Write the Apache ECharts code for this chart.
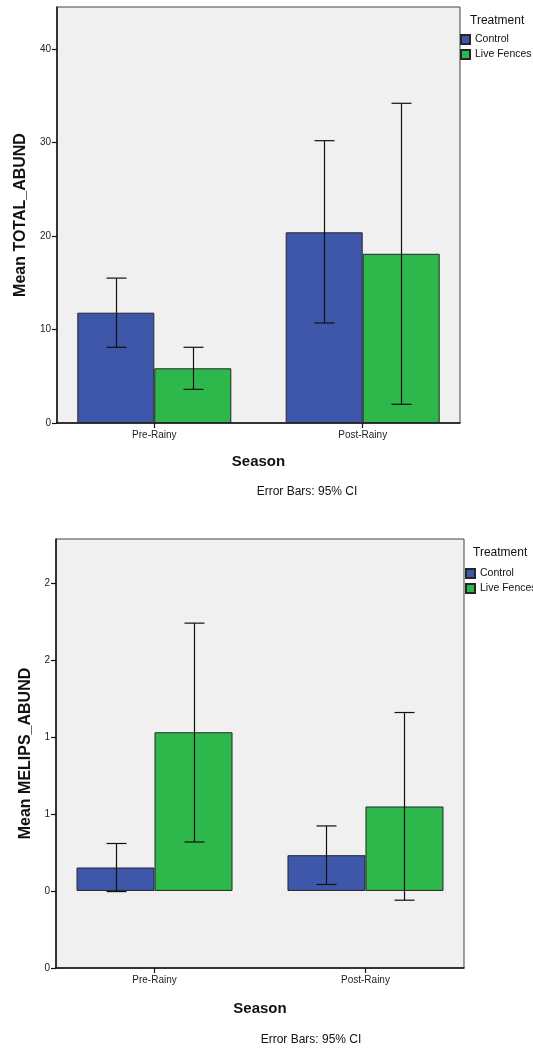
<!DOCTYPE html>
<html>
<head>
<meta charset="utf-8">
<script src="https://cdn.jsdelivr.net/npm/echarts@6/dist/echarts.min.js"></script>
<style>
html,body{margin:0;padding:0;background:#fff;}
#chart{width:533px;height:1048px;}
</style>
</head>
<body>
<div id="chart"></div>
<script>
// ---- data ----
const seasons = ['Pre-Rainy', 'Post-Rainy'];
const treatments = ['Control', 'Live Fences'];

// Chart 1: Mean TOTAL_ABUND
const totalControlMean = [11.8, 20.4];
const totalControlLow  = [8.1, 10.7];
const totalControlHigh = [15.5, 30.2];
const totalFencesMean  = [5.85, 18.1];
const totalFencesLow   = [3.6, 2.0];
const totalFencesHigh  = [8.1, 34.2];
const totalTicks = [0, 10, 20, 30, 40];
const totalTickLabels = ['0', '10', '20', '30', '40'];

// Chart 2: Mean MELIPS_ABUND
const melipsControlMean = [0.152, 0.232];
const melipsControlLow  = [-0.004, 0.042];
const melipsControlHigh = [0.308, 0.422];
const melipsFencesMean  = [1.03, 0.548];
const melipsFencesLow   = [0.318, -0.06];
const melipsFencesHigh  = [1.738, 1.158];
const melipsTicks = [-0.5, 0, 0.5, 1, 1.5, 2];
const melipsTickLabels = ['0', '0', '1', '1', '2', '2'];

// ---- styles ----
const FONT = '"Liberation Sans", Arial, sans-serif';
const BLUE = '#3e57ab';
const GREEN = '#2eb74a';
const BAR_W = [77, 78];

const chart = echarts.init(document.getElementById('chart'), null, {renderer: 'canvas'});

function pairs(vals) { return vals.map((v, i) => [i, v]); }
function errData(low, high) { return low.map((l, i) => [i, l, high[i]]); }

function xAxisFor(idx, gap) {
  return {
    gridIndex: idx, type: 'value', min: -0.467, max: 1.467,
    name: 'Season', nameLocation: 'middle', nameGap: gap,
    nameTextStyle: {fontFamily: FONT, fontSize: 15, fontWeight: 'bold', color: '#111'},
    axisLine: {show: true, onZero: false, lineStyle: {color: '#111', width: 1.5}},
    axisTick: {show: true, customValues: [0, 1], length: 5, lineStyle: {color: '#111', width: 1.2}},
    axisLabel: {customValues: [0, 1], formatter: v => seasons[Math.round(v)], fontFamily: FONT, fontSize: 10, color: '#222', margin: 7},
    splitLine: {show: false}
  };
}
function yAxisFor(idx, name, min, max, ticks, labels, gap) {
  return {
    gridIndex: idx, type: 'value', min: min, max: max,
    name: name, nameLocation: 'middle', nameGap: gap,
    nameTextStyle: {fontFamily: FONT, fontSize: 16, fontWeight: 'bold', color: '#111'},
    axisLine: {show: true, onZero: false, lineStyle: {color: '#111', width: 1.5}},
    axisTick: {show: true, customValues: ticks, length: 5, lineStyle: {color: '#111', width: 1.2}},
    axisLabel: {customValues: ticks, formatter: v => labels[ticks.indexOf(v)] ?? '', fontFamily: FONT, fontSize: 10, color: '#222', margin: 6},
    splitLine: {show: false}
  };
}
function barSeries(idx, name, color, vals) {
  return {
    type: 'bar', name: name, xAxisIndex: idx, yAxisIndex: idx, z: 2,
    data: pairs(vals), barWidth: BAR_W[idx], barGap: '0%',
    itemStyle: {color: color, borderColor: '#262626', borderWidth: 1},
    emphasis: {disabled: true}, animation: false
  };
}
function errSeries(idx, dir, low, high) {
  const cap = 10;
  return {
    type: 'custom', xAxisIndex: idx, yAxisIndex: idx, clip: false, z: 5,
    data: errData(low, high), encode: {x: 0, y: [1, 2]}, animation: false, silent: true,
    renderItem: function (params, api) {
      const off = dir * BAR_W[idx] / 2;
      const p1 = api.coord([api.value(0), api.value(1)]);
      const p2 = api.coord([api.value(0), api.value(2)]);
      const x = Math.round(p1[0] + off) + 0.5;
      const st = {stroke: '#111', lineWidth: 1.2};
      return {type: 'group', children: [
        {type: 'line', shape: {x1: x, y1: p1[1], x2: x, y2: p2[1]}, style: st},
        {type: 'line', shape: {x1: x - cap, y1: p1[1], x2: x + cap, y2: p1[1]}, style: st},
        {type: 'line', shape: {x1: x - cap, y1: p2[1], x2: x + cap, y2: p2[1]}, style: st}
      ]};
    }
  };
}
function legendFor(left, top) {
  return {
    left: left, top: top, orient: 'vertical', data: treatments, padding: 0,
    icon: 'rect', itemWidth: 9, itemHeight: 9, itemGap: 2,
    textStyle: {fontFamily: FONT, fontSize: 10.5, color: '#111', lineHeight: 13}
  };
}

const option = {
  backgroundColor: '#ffffff',
  animation: false,
  grid: [
    {left: 57, top: 7, width: 403, height: 416, show: true, backgroundColor: '#f0f0f0', borderColor: '#444', borderWidth: 1},
    {left: 56, top: 539, width: 408, height: 429, show: true, backgroundColor: '#f0f0f0', borderColor: '#444', borderWidth: 1}
  ],
  xAxis: [xAxisFor(0, 31), xAxisFor(1, 33)],
  yAxis: [
    yAxisFor(0, 'Mean TOTAL_ABUND', 0, 44.5, totalTicks, totalTickLabels, 24),
    yAxisFor(1, 'Mean MELIPS_ABUND', -0.5, 2.284, melipsTicks, melipsTickLabels, 18)
  ],
  legend: [legendFor(460, 33), legendFor(465, 567)],
  graphic: [
    {type: 'text', left: 470, top: 15, style: {text: 'Treatment', font: '12px ' + FONT, fill: '#111'}},
    {type: 'text', left: 473, top: 547, style: {text: 'Treatment', font: '12px ' + FONT, fill: '#111'}},
    {type: 'text', x: 307, y: 492, style: {text: 'Error Bars: 95% CI', font: '12px ' + FONT, fill: '#111', align: 'center', verticalAlign: 'middle'}},
    {type: 'text', x: 311, y: 1040, style: {text: 'Error Bars: 95% CI', font: '12px ' + FONT, fill: '#111', align: 'center', verticalAlign: 'middle'}}
  ],
  series: [
    barSeries(0, 'Control', BLUE, totalControlMean),
    barSeries(0, 'Live Fences', GREEN, totalFencesMean),
    errSeries(0, -1, totalControlLow, totalControlHigh),
    errSeries(0, 1, totalFencesLow, totalFencesHigh),
    barSeries(1, 'Control', BLUE, melipsControlMean),
    barSeries(1, 'Live Fences', GREEN, melipsFencesMean),
    errSeries(1, -1, melipsControlLow, melipsControlHigh),
    errSeries(1, 1, melipsFencesLow, melipsFencesHigh)
  ]
};
chart.setOption(option);
</script>
</body>
</html>
